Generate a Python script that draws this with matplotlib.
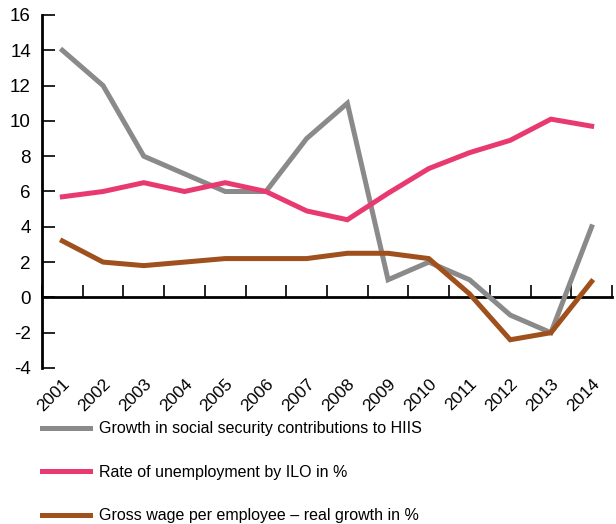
import matplotlib.pyplot as plt
import numpy as np

plt.rcParams['font.family'] = ['Liberation Sans Narrow', 'Liberation Sans', 'DejaVu Sans']
plt.rcParams['axes.unicode_minus'] = False

years = ['2001', '2002', '2003', '2004', '2005', '2006', '2007',
         '2008', '2009', '2010', '2011', '2012', '2013', '2014']
contrib_growth = [14, 12, 8, 7, 6, 6, 9, 11, 1, 2, 1, -1, -2, 4]
unemployment = [5.7, 6.0, 6.5, 6.0, 6.5, 6.0, 4.9, 4.4, 5.9, 7.3, 8.2, 8.9, 10.1, 9.7]
wage_growth = [3.2, 2.0, 1.8, 2.0, 2.2, 2.2, 2.2, 2.5, 2.5, 2.2, 0.2, -2.4, -2.0, 0.9]

labels = ['Growth in social security contributions to HIIS',
          'Rate of unemployment by ILO in %',
          'Gross wage per employee \u2013 real growth in %']
colors = ['#8a8a8a', '#e83a70', '#a0501c']

fig = plt.figure(figsize=(6.16, 5.24), dpi=100)
ax = fig.add_axes([42 / 616, 1 - 368 / 524, 570 / 616, 353 / 524])

x = np.arange(len(years))
for vals, lab, col in zip([contrib_growth, unemployment, wage_growth], labels, colors):
    ax.plot(x, vals, color=col, lw=3.6, label=lab, solid_joinstyle='miter')

ax.set_xlim(-0.5, len(years) - 0.5)
ax.set_ylim(-4, 16)
ax.set_yticks(np.arange(-4, 17, 2))
ax.tick_params(axis='y', direction='in', length=9, width=1.2, labelsize=13.5, pad=8)

for s in ['top', 'right', 'bottom']:
    ax.spines[s].set_visible(False)
ax.spines['left'].set_linewidth(2)

# year labels under the plot, no tick marks
ax.set_xticks(x)
ax.set_xticklabels(years, rotation=45, ha='right', rotation_mode='anchor', fontsize=12.5)
ax.tick_params(axis='x', length=0, pad=6)

# zero line with category boundary ticks
zero = ax.secondary_xaxis(4 / 20)
zero.set_xticks(np.arange(-0.5, len(years), 1.0))
zero.tick_params(direction='in', length=9, width=1.2, labelbottom=False)
zero.spines['bottom'].set_linewidth(2)

handles, _ = ax.get_legend_handles_labels()
fig.legend(handles, labels, loc='upper left', bbox_to_anchor=(28 / 616, 1 - 407 / 524),
           frameon=False, fontsize=11.5, handlelength=3.0, handletextpad=0.55,
           labelspacing=1.78)

fig.savefig('out.png', dpi=100)
